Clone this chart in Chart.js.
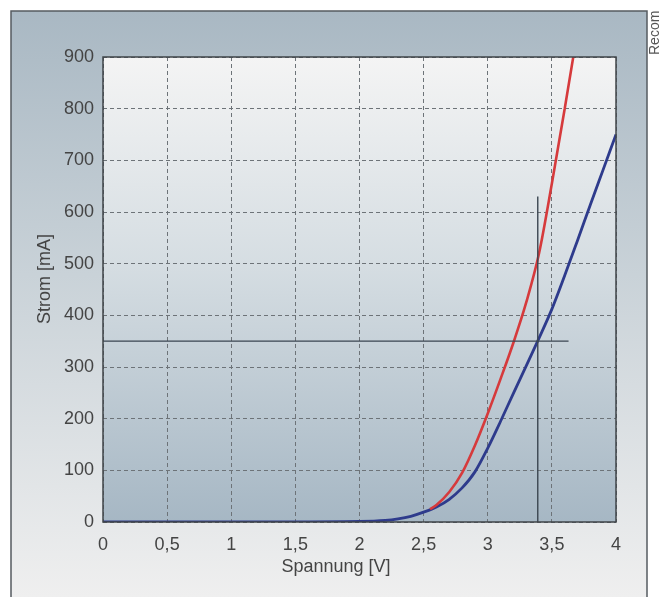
<!DOCTYPE html>
<html>
<head>
<meta charset="utf-8">
<script src="https://cdn.jsdelivr.net/npm/chart.js@4/dist/chart.umd.min.js"></script>
<style>
  html, body { margin: 0; padding: 0; background: #fff; }
  #wrap { position: relative; width: 659px; height: 597px; }
</style>
</head>
<body>
<div id="wrap"><canvas id="ivChart" width="659" height="597"></canvas></div>
<script>
// Kennlinien (Spannung in V, Strom in mA)
const blueVolt = [0, 0.5, 1, 1.5, 2, 2.2, 2.3, 2.4, 2.5, 2.6, 2.7, 2.8, 2.9, 3.0, 3.1, 3.2, 3.3, 3.4, 3.5, 3.6, 3.7, 3.8, 3.9, 4.0];
const blueCurrent = [0, 0, 0, 0.3, 1, 3, 6, 11, 19, 29, 44, 66, 97, 143, 195, 249, 302, 356, 412, 477, 545, 614, 682, 750];

const redVolt = [2.55, 2.6, 2.7, 2.8, 2.9, 3.0, 3.1, 3.2, 3.3, 3.4, 3.5, 3.6, 3.7];
const redCurrent = [25, 33, 58, 95, 148, 210, 277, 347, 425, 520, 655, 800, 950];

// Arbeitspunkt-Hilfslinien
const hLineVolt = [0, 3.63];
const hLineCurrent = [350, 350];
const vLineVolt = [3.39, 3.39];
const vLineCurrent = [0, 630];

const xTicks = [0, 0.5, 1, 1.5, 2, 2.5, 3, 3.5, 4];
const yTicks = [0, 100, 200, 300, 400, 500, 600, 700, 800, 900];

const xTitle = 'Spannung [V]';
const yTitle = 'Strom [mA]';
const sideText = 'Recom';

const toPoints = (xs, ys) => xs.map((x, i) => ({ x: x, y: ys[i] }));

const FONT = '"Liberation Sans", Arial, Helvetica, sans-serif';

const backgroundPlugin = {
    id: 'bgFrame',
    beforeDraw(chart) {
        const ctx = chart.ctx;
        const a = chart.chartArea;
        ctx.save();
        ctx.fillStyle = '#ffffff';
        ctx.fillRect(0, 0, chart.width, chart.height);

        // outer frame
        const g1 = ctx.createLinearGradient(0, 11, 0, 597);
        g1.addColorStop(0, '#a9b8c3');
        g1.addColorStop(0.45, '#c9d2d8');
        g1.addColorStop(1, '#efefef');
        ctx.fillStyle = g1;
        ctx.fillRect(11, 11, 636, 600);
        ctx.strokeStyle = '#555b60';
        ctx.lineWidth = 1.5;
        ctx.strokeRect(11, 11, 636, 600);

        // plot area
        const g2 = ctx.createLinearGradient(0, a.top, 0, a.bottom);
        g2.addColorStop(0, '#f4f4f4');
        g2.addColorStop(0.45, '#d5dde2');
        g2.addColorStop(1, '#a6b7c4');
        ctx.fillStyle = g2;
        ctx.fillRect(a.left, a.top, a.right - a.left, a.bottom - a.top);
        ctx.restore();
    },
    afterDraw(chart) {
        const ctx = chart.ctx;
        const a = chart.chartArea;
        ctx.save();
        ctx.strokeStyle = '#3f4448';
        ctx.lineWidth = 1.5;
        ctx.strokeRect(a.left, a.top, a.right - a.left, a.bottom - a.top);

        ctx.fillStyle = '#444444';
        ctx.font = '18px ' + FONT;
        ctx.textAlign = 'center';
        ctx.textBaseline = 'middle';
        ctx.fillText(xTitle, 336, 567);

        ctx.translate(45, 279);
        ctx.rotate(-Math.PI / 2);
        ctx.fillText(yTitle, 0, 0);
        ctx.restore();

        ctx.save();
        ctx.fillStyle = '#555555';
        ctx.font = '14px ' + FONT;
        ctx.textAlign = 'left';
        ctx.textBaseline = 'middle';
        ctx.translate(655, 55);
        ctx.rotate(-Math.PI / 2);
        ctx.fillText(sideText, 0, 0);
        ctx.restore();
    }
};

const fmt = (v) => String(v).replace('.', ',');

new Chart(document.getElementById('ivChart'), {
    type: 'scatter',
    data: {
        datasets: [
            {
                label: 'Hilfslinie Strom',
                data: toPoints(hLineVolt, hLineCurrent),
                showLine: true,
                borderColor: '#3a4550',
                borderWidth: 1.4,
                pointRadius: 0
            },
            {
                label: 'Hilfslinie Spannung',
                data: toPoints(vLineVolt, vLineCurrent),
                showLine: true,
                borderColor: '#3a4550',
                borderWidth: 1.4,
                pointRadius: 0
            },
            {
                label: 'rot',
                data: toPoints(redVolt, redCurrent),
                showLine: true,
                borderColor: '#d63a3c',
                borderWidth: 2.6,
                pointRadius: 0,
                cubicInterpolationMode: 'monotone'
            },
            {
                label: 'blau',
                data: toPoints(blueVolt, blueCurrent),
                showLine: true,
                borderColor: '#2e3b8c',
                borderWidth: 2.8,
                pointRadius: 0,
                cubicInterpolationMode: 'monotone'
            }
        ]
    },
    options: {
        responsive: false,
        animation: false,
        events: [],
        layout: {
            padding: { left: 0, top: 57, right: 43, bottom: 0 }
        },
        plugins: {
            legend: { display: false },
            tooltip: { enabled: false }
        },
        scales: {
            x: {
                type: 'linear',
                min: 0,
                max: 4,
                afterBuildTicks: (scale) => { scale.ticks = xTicks.map(v => ({ value: v })); },
                afterFit: (scale) => { scale.height = 75; },
                border: { display: false, dash: [4, 3] },
                grid: {
                    color: '#6d7378',
                    lineWidth: 1,
                    drawTicks: false
                },
                ticks: {
                    padding: 12,
                    color: '#444444',
                    font: { family: FONT, size: 18 },
                    callback: (v) => fmt(v)
                }
            },
            y: {
                type: 'linear',
                min: 0,
                max: 900,
                afterBuildTicks: (scale) => { scale.ticks = yTicks.map(v => ({ value: v })); },
                afterFit: (scale) => { scale.width = 103; },
                border: { display: false, dash: [4, 3] },
                grid: {
                    color: '#6d7378',
                    lineWidth: 1,
                    drawTicks: false
                },
                ticks: {
                    padding: 9,
                    color: '#444444',
                    font: { family: FONT, size: 18 },
                    callback: (v) => fmt(v)
                }
            }
        }
    },
    plugins: [backgroundPlugin]
});
</script>
</body>
</html>
